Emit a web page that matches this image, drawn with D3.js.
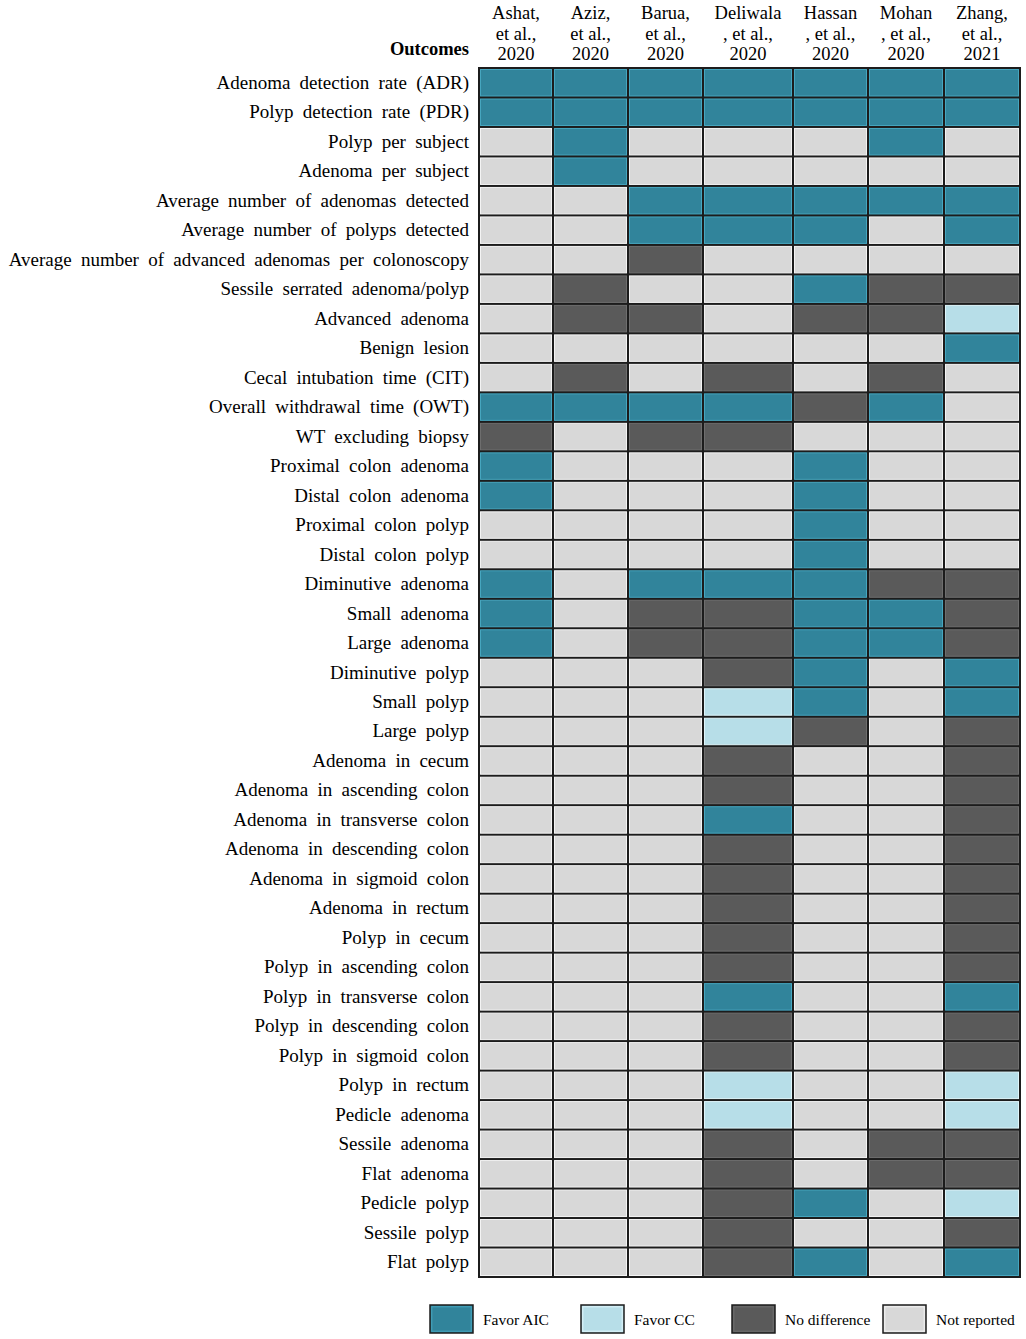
<!DOCTYPE html>
<html>
<head>
<meta charset="utf-8">
<script src="https://cdn.jsdelivr.net/npm/d3@7"></script>
<style>
  body { margin: 0; background: #fff; }
  text { font-family: "Liberation Serif", "DejaVu Serif", serif; fill: #000; }
</style>
</head>
<body>
<div id="chart"></div>
<script>
// studies (columns), header split into lines
var studies = ["Ashat", "Aziz", "Barua", "Deliwala", "Hassan", "Mohan", "Zhang"];
var studyLabels = [
  ["Ashat,", "et al.,", "2020"],
  ["Aziz,", "et al.,", "2020"],
  ["Barua,", "et al.,", "2020"],
  ["Deliwala", ", et al.,", "2020"],
  ["Hassan", ", et al.,", "2020"],
  ["Mohan", ", et al.,", "2020"],
  ["Zhang,", "et al.,", "2021"]
];

var outcomes = [
  "Adenoma detection rate (ADR)",
  "Polyp detection rate (PDR)",
  "Polyp per subject",
  "Adenoma per subject",
  "Average number of adenomas detected",
  "Average number of polyps detected",
  "Average number of advanced adenomas per colonoscopy",
  "Sessile serrated adenoma/polyp",
  "Advanced adenoma",
  "Benign lesion",
  "Cecal intubation time (CIT)",
  "Overall withdrawal time (OWT)",
  "WT excluding biopsy",
  "Proximal colon adenoma",
  "Distal colon adenoma",
  "Proximal colon polyp",
  "Distal colon polyp",
  "Diminutive adenoma",
  "Small adenoma",
  "Large adenoma",
  "Diminutive polyp",
  "Small polyp",
  "Large polyp",
  "Adenoma in cecum",
  "Adenoma in ascending colon",
  "Adenoma in transverse colon",
  "Adenoma in descending colon",
  "Adenoma in sigmoid colon",
  "Adenoma in rectum",
  "Polyp in cecum",
  "Polyp in ascending colon",
  "Polyp in transverse colon",
  "Polyp in descending colon",
  "Polyp in sigmoid colon",
  "Polyp in rectum",
  "Pedicle adenoma",
  "Sessile adenoma",
  "Flat adenoma",
  "Pedicle polyp",
  "Sessile polyp",
  "Flat polyp"
];

// A = favor AIC, C = favor CC, N = no difference, R = not reported
// one string per outcome, one letter per study
var results = [
  "AAAAAAA",
  "AAAAAAA",
  "RARRRAR",
  "RARRRRR",
  "RRAAAAA",
  "RRAAARA",
  "RRNRRRR",
  "RNRRANN",
  "RNNRNNC",
  "RRRRRRA",
  "RNRNRNR",
  "AAAANAR",
  "NRNNRRR",
  "ARRRARR",
  "ARRRARR",
  "RRRRARR",
  "RRRRARR",
  "ARAAANN",
  "ARNNAAN",
  "ARNNAAN",
  "RRRNARA",
  "RRRCARA",
  "RRRCNRN",
  "RRRNRRN",
  "RRRNRRN",
  "RRRARRN",
  "RRRNRRN",
  "RRRNRRN",
  "RRRNRRN",
  "RRRNRRN",
  "RRRNRRN",
  "RRRARRA",
  "RRRNRRN",
  "RRRNRRN",
  "RRRCRRC",
  "RRRCRRC",
  "RRRNRNN",
  "RRRNRNN",
  "RRRNARC",
  "RRRNRRN",
  "RRRNARA"
];

var categories = ["A", "C", "N", "R"];
var categoryLabels = ["Favor AIC", "Favor CC", "No difference", "Not reported"];

// ---- styling / layout ----
var palette = ["#31849b", "#b7dee8", "#5a5a5a", "#d8d8d8"];
var edgePalette = ["#46a6bf", "#dff6fb", "#6e6e6e", "#f4f4f4"];
var colWidths = [74, 75, 75, 90, 75, 76, 76];   // Deliwala column is wider
var W = 1026, H = 1339;
var gridLeft = 479, gridTop = 68, gridBottom = 1277;

var svg = d3.select("#chart").append("svg")
  .attr("width", W).attr("height", H);

var color = d3.scaleOrdinal().domain(categories).range(palette);
var edge = d3.scaleOrdinal().domain(categories).range(edgePalette);

// x: cumulative column edges
var edges = [0];
colWidths.forEach(function (w, i) { edges.push(edges[i] + w); });
var x = d3.scaleLinear().domain([0, edges[edges.length - 1]])
  .range([gridLeft, gridLeft + edges[edges.length - 1]]);
var colX = function (i) { return x(edges[i]); };
var colW = function (i) { return x(edges[i + 1]) - x(edges[i]); };

var y = d3.scaleBand().domain(outcomes).range([gridTop, gridBottom]).padding(0);

// cells
var cells = [];
results.forEach(function (r, ri) {
  r.split("").forEach(function (code, ci) {
    cells.push({ outcome: outcomes[ri], study: ci, code: code });
  });
});

svg.append("rect")
  .attr("x", gridLeft - 1).attr("y", gridTop - 1)
  .attr("width", colX(studies.length) - gridLeft + 2)
  .attr("height", gridBottom - gridTop + 2)
  .attr("fill", "#1c1c1c");

svg.append("g").selectAll("rect")
  .data(cells)
  .enter()
  .append("rect")
    .attr("x", function (d) { return colX(d.study) + 1.5; })
    .attr("y", function (d) { return y(d.outcome) + 1.5; })
    .attr("width", function (d) { return colW(d.study) - 3; })
    .attr("height", y.bandwidth() - 3)
    .attr("fill", function (d) { return color(d.code); })
    .attr("stroke", function (d) { return edge(d.code); })
    .attr("stroke-width", 1);

// row labels
svg.append("g").selectAll("text")
  .data(outcomes)
  .enter()
  .append("text")
    .attr("x", gridLeft - 10)
    .attr("y", function (d) { return y(d) + y.bandwidth() / 2 + 6; })
    .attr("text-anchor", "end")
    .style("font-size", "19px")
    .style("word-spacing", "4.5px")
    .text(function (d) { return d; });

// column headers
var header = svg.append("g").selectAll("g")
  .data(studyLabels)
  .enter()
  .append("text")
    .attr("text-anchor", "middle")
    .style("font-size", "18.5px")
    .attr("transform", function (d, i) {
      return "translate(" + (colX(i) + colW(i) / 2) + ",0)";
    });
header.selectAll("tspan")
  .data(function (d) { return d; })
  .enter()
  .append("tspan")
    .attr("x", 0)
    .attr("y", function (d, i) { return 19 + i * 20.5; })
    .text(function (d) { return d; });

svg.append("text")
  .attr("x", gridLeft - 10)
  .attr("y", 55)
  .attr("text-anchor", "end")
  .style("font-size", "18.5px")
  .style("font-weight", "bold")
  .text("Outcomes");

// legend
var legend = svg.append("g").selectAll("g")
  .data(categories)
  .enter()
  .append("g")
    .attr("transform", function (d, i) {
      return "translate(" + (430 + i * 151) + ",1305)";
    });
legend.append("rect")
  .attr("width", 43).attr("height", 28)
  .attr("fill", function (d) { return color(d); })
  .attr("stroke", "#1c1c1c")
  .attr("stroke-width", 1.5);
legend.append("rect")
  .attr("x", 1.8).attr("y", 1.8)
  .attr("width", 39.4).attr("height", 24.4)
  .attr("fill", "none")
  .attr("stroke", function (d) { return edge(d); })
  .attr("stroke-width", 1);
legend.append("text")
  .attr("x", 53)
  .attr("y", 20)
  .style("font-size", "15.5px")
  .text(function (d, i) { return categoryLabels[i]; });
</script>
</body>
</html>
